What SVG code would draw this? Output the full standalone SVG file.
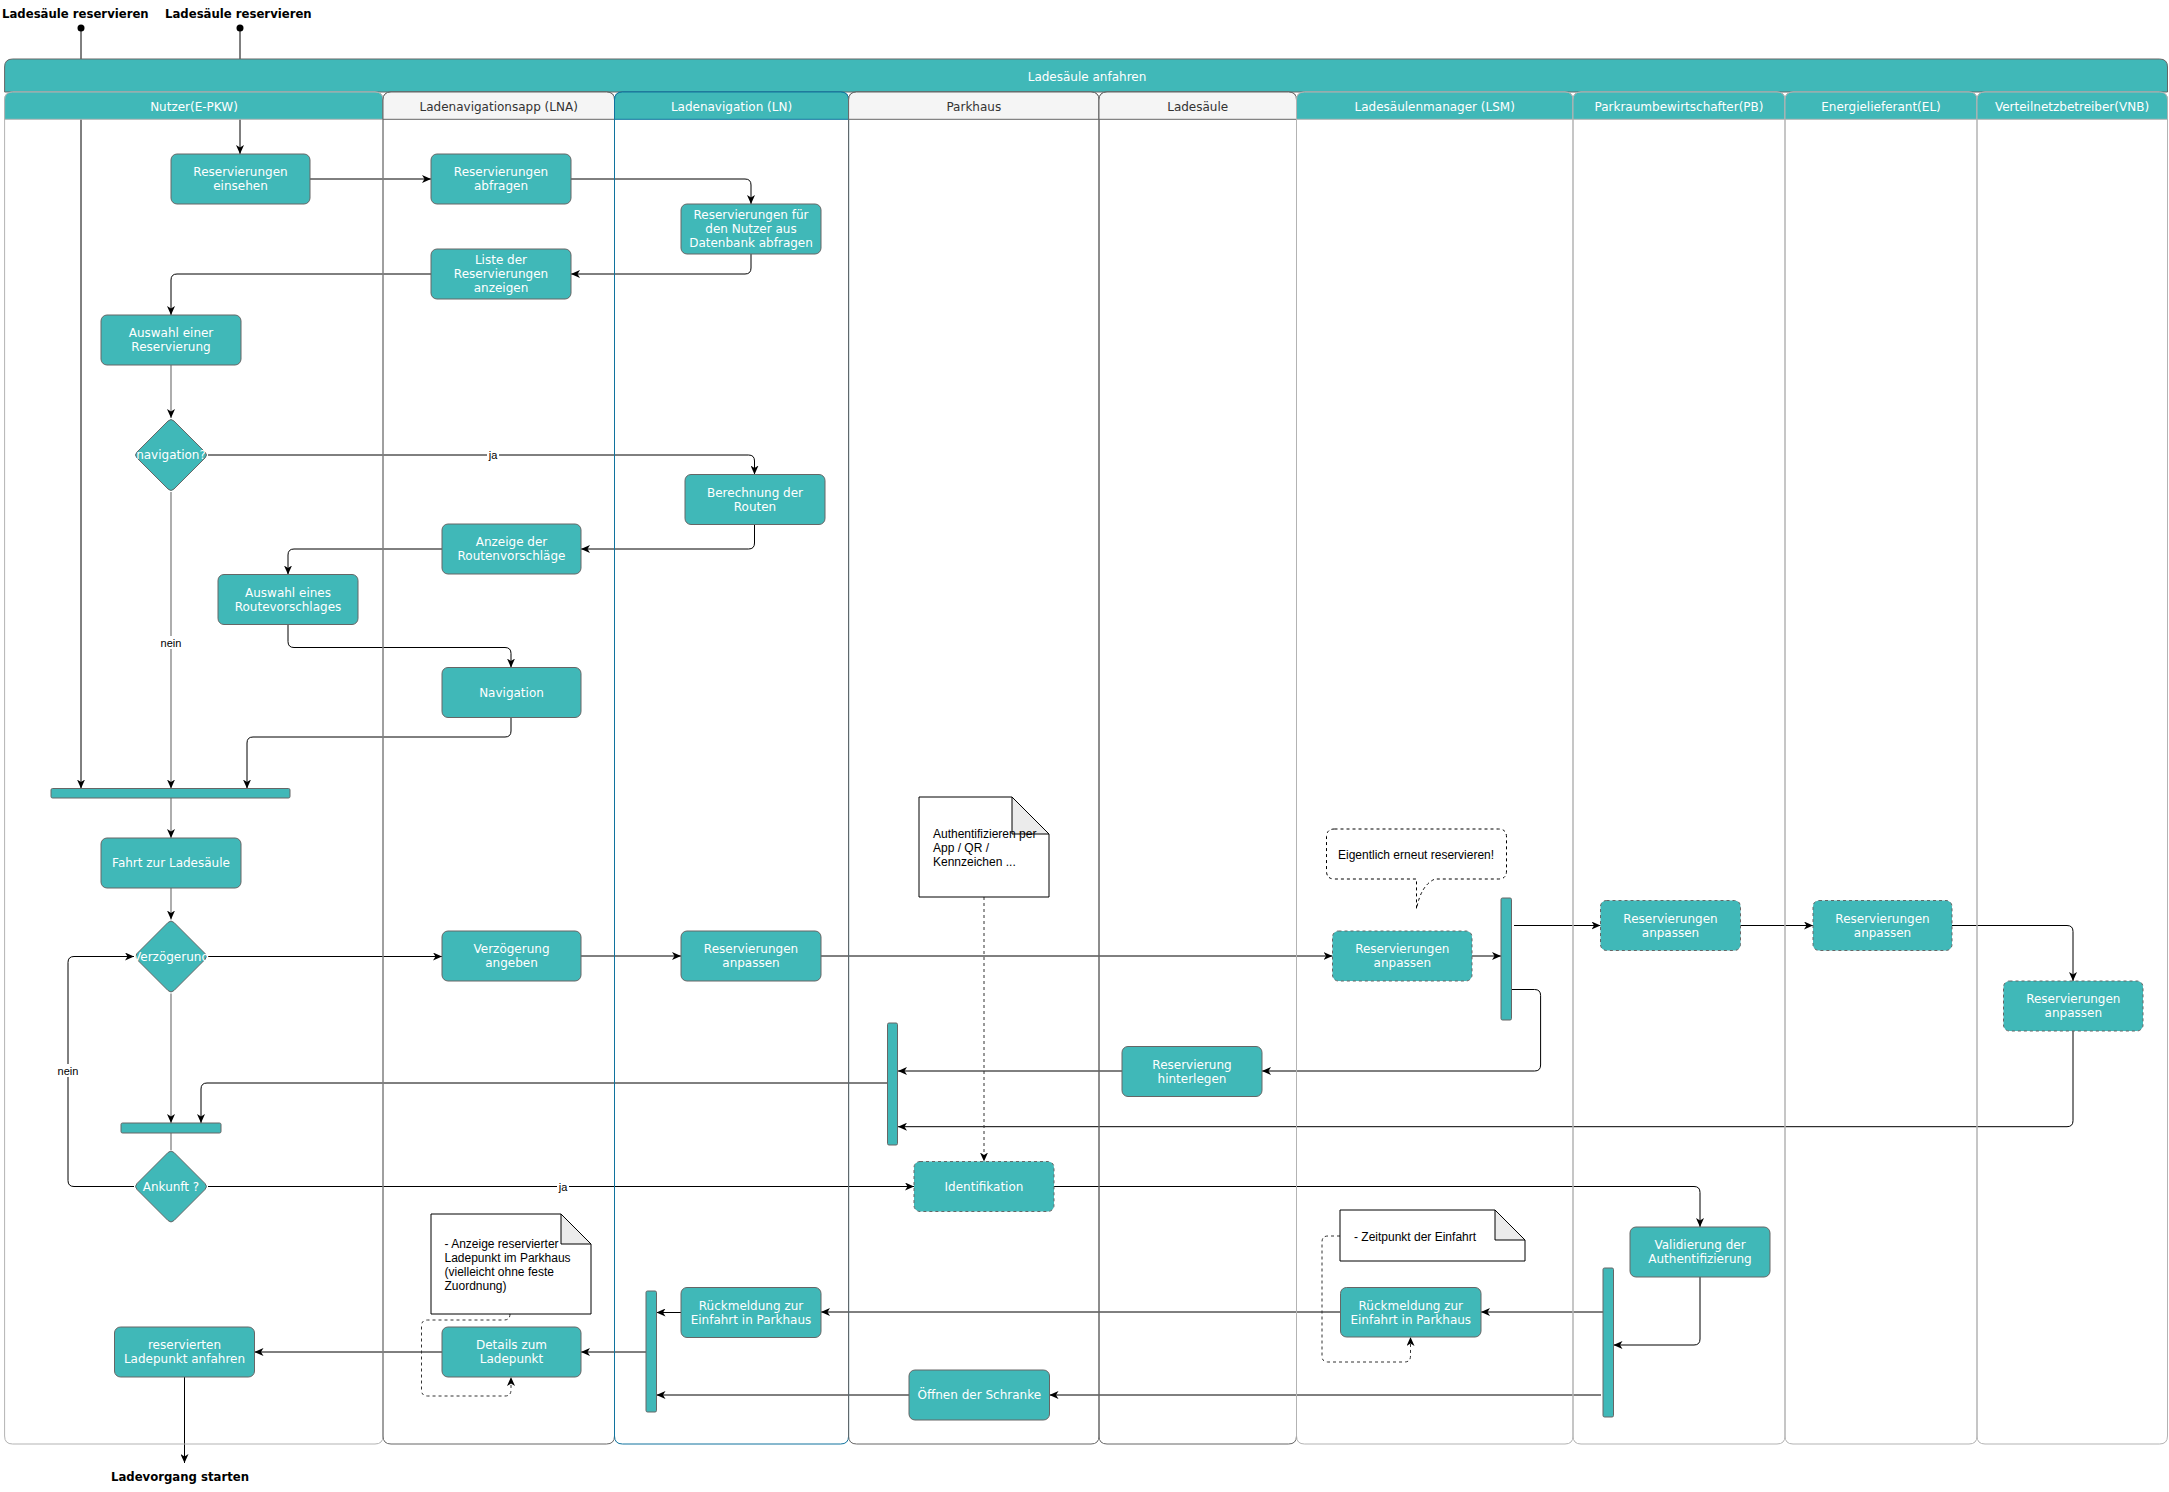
<svg xmlns="http://www.w3.org/2000/svg" width="2169" height="1492" viewBox="0 0 2169 1492">
<style>
.bg{fill:#fff}
.node{fill:#40B8B8;stroke:#666;stroke-width:1}
.dash{stroke-dasharray:3 3}
.bar{fill:#40B8B8;stroke:#666;stroke-width:1}
.nt{font-family:"DejaVu Sans",Verdana,sans-serif;font-size:12px;fill:#fff;text-anchor:middle}
.ht{font-family:"DejaVu Sans",Verdana,sans-serif;font-size:12px;text-anchor:middle}
.edge{fill:none;stroke:#000;stroke-width:1}
.gedge{fill:none;stroke:#777;stroke-width:1.2}
.dedge{fill:none;stroke:#333;stroke-width:1;stroke-dasharray:3 3}
.lbl{font-family:"Liberation Sans",Arial,sans-serif;font-size:11px;fill:#000;text-anchor:middle}
.lblbg{fill:#fff}
.note{fill:#fff;stroke:#000;stroke-width:1}
.fold{fill:#ebebeb;stroke:#000;stroke-width:1}
.notet{font-family:"Liberation Sans",Arial,sans-serif;font-size:12px;fill:#000}
.title{font-family:"DejaVu Sans",Verdana,sans-serif;font-size:11.7px;font-weight:bold;fill:#000}
.lanebody{fill:none;stroke-width:1}
</style>
<defs>
<marker id="arr" viewBox="0 0 9 8" refX="9" refY="4" markerWidth="9" markerHeight="8" markerUnits="userSpaceOnUse" orient="auto"><path d="M0,0 L9,4 L0,8 L2.5,4 Z" fill="#000"/></marker>
</defs>
<rect class="bg" x="0" y="0" width="2169" height="1492"/>

<g id="start-labels">
<text class="title" x="2" y="18">Ladesäule reservieren</text>
<text class="title" x="165" y="18">Ladesäule reservieren</text>
<circle cx="81" cy="28" r="3.5" fill="#000"/>
<circle cx="240" cy="28" r="3.5" fill="#000"/>
<text class="title" x="180" y="1481" text-anchor="middle">Ladevorgang starten</text>
</g>

<g id="connectors">
<path class="edge" d="M81,31 V788.5" marker-end="url(#arr)"/>
<path class="edge" d="M240,31 V154" marker-end="url(#arr)"/>
<path class="edge" d="M310,179 H431" marker-end="url(#arr)"/>
<path class="edge" d="M571,179 H745 Q751,179 751,185 V204" marker-end="url(#arr)"/>
<path class="edge" d="M751,254 V268 Q751,274 745,274 H571" marker-end="url(#arr)"/>
<path class="edge" d="M431,274 H177 Q171,274 171,280 V315" marker-end="url(#arr)"/>
<path class="gedge" d="M171,365 V418" marker-end="url(#arr)"/>
<path class="edge" d="M208,455 H748.5 Q754.5,455 754.5,461 V474.5" marker-end="url(#arr)"/>
<path class="edge" d="M754.5,524.5 V543 Q754.5,549 748.5,549 H581" marker-end="url(#arr)"/>
<path class="edge" d="M442,549 H294 Q288,549 288,555 V574.5" marker-end="url(#arr)"/>
<path class="edge" d="M288,624.5 V641.5 Q288,647.5 294,647.5 H505 Q511,647.5 511,653.5 V667.5" marker-end="url(#arr)"/>
<path class="edge" d="M511,717.5 V731 Q511,737 505,737 H253 Q247,737 247,743 V788.5" marker-end="url(#arr)"/>
<path class="gedge" d="M171,492 V788.5" marker-end="url(#arr)"/>
<path class="gedge" d="M171,798 V838" marker-end="url(#arr)"/>
<path class="gedge" d="M171,888 V919.5" marker-end="url(#arr)"/>
<path class="edge" d="M208,956.5 H442" marker-end="url(#arr)"/>
<path class="edge" d="M581,956 H681" marker-end="url(#arr)"/>
<path class="edge" d="M821,956 H1332.5" marker-end="url(#arr)"/>
<path class="edge" d="M1472,956 H1501" marker-end="url(#arr)"/>
<path class="edge" d="M1514,925.5 H1600.5" marker-end="url(#arr)"/>
<path class="edge" d="M1740.5,925.5 H1813" marker-end="url(#arr)"/>
<path class="edge" d="M1952,925.5 H2067 Q2073,925.5 2073,931.5 V981" marker-end="url(#arr)"/>
<path class="edge" d="M2073,1031 V1120.7 Q2073,1126.7 2067,1126.7 H898" marker-end="url(#arr)"/>
<path class="edge" d="M1511.5,989.5 H1534.6 Q1540.6,989.5 1540.6,995.5 V1065 Q1540.6,1071 1534.6,1071 H1262" marker-end="url(#arr)"/>
<path class="edge" d="M1122,1071 H898" marker-end="url(#arr)"/>
<path class="edge" d="M887.5,1083 H207 Q201,1083 201,1089 V1123" marker-end="url(#arr)"/>
<path class="gedge" d="M171,993.5 V1123" marker-end="url(#arr)"/>
<path class="gedge" d="M171,1133 V1150"/>
<path class="edge" d="M208,1186.5 H914" marker-end="url(#arr)"/>
<path class="edge" d="M134,1186.5 H74 Q68,1186.5 68,1180.5 V962.5 Q68,956.5 74,956.5 H134" marker-end="url(#arr)"/>
<path class="dedge" d="M984,897 V1161.5" marker-end="url(#arr)"/>
<path class="edge" d="M1054,1186.5 H1694 Q1700,1186.5 1700,1192.5 V1227" marker-end="url(#arr)"/>
<path class="edge" d="M1700,1277 V1339 Q1700,1345 1694,1345 H1613.5" marker-end="url(#arr)"/>
<path class="edge" d="M1603,1312 H1481" marker-end="url(#arr)"/>
<path class="edge" d="M1340.5,1312 H821" marker-end="url(#arr)"/>
<path class="edge" d="M681,1312.5 H656.5" marker-end="url(#arr)"/>
<path class="edge" d="M1601,1395 H1049.5" marker-end="url(#arr)"/>
<path class="edge" d="M909,1395 H656.5" marker-end="url(#arr)"/>
<path class="edge" d="M646,1352 H581" marker-end="url(#arr)"/>
<path class="edge" d="M442,1352 H254.5" marker-end="url(#arr)"/>
<path class="edge" d="M184.5,1377 V1463" marker-end="url(#arr)"/>
<path class="dedge" d="M510,1314 Q510,1320 504,1320 H427.5 Q421.5,1320 421.5,1326 V1390 Q421.5,1396 427.5,1396 H505 Q511,1396 511,1390 V1377" marker-end="url(#arr)"/>
<path class="dedge" d="M1340,1236 H1328 Q1322,1236 1322,1242 V1356 Q1322,1362 1328,1362 H1404.5 Q1410.5,1362 1410.5,1356 V1337" marker-end="url(#arr)"/>
<rect class="lblbg" x="487" y="449" width="12" height="12"/>
<text class="lbl" x="493" y="459">ja</text>
<rect class="lblbg" x="160" y="636" width="22" height="13"/>
<text class="lbl" x="171" y="646.5">nein</text>
<rect class="lblbg" x="557" y="1181" width="12" height="12"/>
<text class="lbl" x="563" y="1191">ja</text>
<rect class="lblbg" x="57" y="1064" width="22" height="13"/>
<text class="lbl" x="68" y="1075">nein</text>
</g>

<g id="pool">
<path d="M4.6,92 V67 Q4.6,59 12.6,59 H2159.5 Q2167.5,59 2167.5,67 V92 Z" fill="#40B8B8" stroke="#666"/>
<text class="ht" x="1087" y="81" fill="#fff">Ladesäule anfahren</text>
<g id="lane-nutzer">
<path class="lanebody" stroke="#B3B3B3" d="M12.6,92 H375 Q383,92 383,100 V1436 Q383,1444 375,1444 H12.6 Q4.6,1444 4.6,1436 V100 Q4.6,92 12.6,92 Z"/>
<path d="M4.6,119.3 V100 Q4.6,92 12.6,92 H375 Q383,92 383,100 V119.3 Z" fill="#40B8B8" stroke="#B3B3B3"/>
<text class="ht" x="194" y="111" fill="#fff">Nutzer(E-PKW)</text>
</g>
<g id="lane-lna">
<path class="lanebody" stroke="#666" d="M391,92 H606.5 Q614.5,92 614.5,100 V1436 Q614.5,1444 606.5,1444 H391 Q383,1444 383,1436 V100 Q383,92 391,92 Z"/>
<path d="M383,119.3 V100 Q383,92 391,92 H606.5 Q614.5,92 614.5,100 V119.3 Z" fill="#F5F5F5" stroke="#666"/>
<text class="ht" x="498.7" y="111" fill="#333">Ladenavigationsapp (LNA)</text>
</g>
<g id="lane-ln">
<path class="lanebody" stroke="#10739E" d="M622.5,92 H840.6 Q848.6,92 848.6,100 V1436 Q848.6,1444 840.6,1444 H622.5 Q614.5,1444 614.5,1436 V100 Q614.5,92 622.5,92 Z"/>
<path d="M614.5,119.3 V100 Q614.5,92 622.5,92 H840.6 Q848.6,92 848.6,100 V119.3 Z" fill="#40B8B8" stroke="#10739E"/>
<text class="ht" x="731.5" y="111" fill="#fff">Ladenavigation (LN)</text>
</g>
<g id="lane-parkhaus">
<path class="lanebody" stroke="#666" d="M856.6,92 H1091 Q1099,92 1099,100 V1436 Q1099,1444 1091,1444 H856.6 Q848.6,1444 848.6,1436 V100 Q848.6,92 856.6,92 Z"/>
<path d="M848.6,119.3 V100 Q848.6,92 856.6,92 H1091 Q1099,92 1099,100 V119.3 Z" fill="#F5F5F5" stroke="#666"/>
<text class="ht" x="973.8" y="111" fill="#333">Parkhaus</text>
</g>
<g id="lane-ladesaeule">
<path class="lanebody" stroke="#666" d="M1107,92 H1288.5 Q1296.5,92 1296.5,100 V1436 Q1296.5,1444 1288.5,1444 H1107 Q1099,1444 1099,1436 V100 Q1099,92 1107,92 Z"/>
<path d="M1099,119.3 V100 Q1099,92 1107,92 H1288.5 Q1296.5,92 1296.5,100 V119.3 Z" fill="#F5F5F5" stroke="#666"/>
<text class="ht" x="1197.7" y="111" fill="#333">Ladesäule</text>
</g>
<g id="lane-lsm">
<path class="lanebody" stroke="#B3B3B3" d="M1304.5,92 H1565 Q1573,92 1573,100 V1436 Q1573,1444 1565,1444 H1304.5 Q1296.5,1444 1296.5,1436 V100 Q1296.5,92 1304.5,92 Z"/>
<path d="M1296.5,119.3 V100 Q1296.5,92 1304.5,92 H1565 Q1573,92 1573,100 V119.3 Z" fill="#40B8B8" stroke="#B3B3B3"/>
<text class="ht" x="1434.7" y="111" fill="#fff">Ladesäulenmanager (LSM)</text>
</g>
<g id="lane-pb">
<path class="lanebody" stroke="#B3B3B3" d="M1581,92 H1777 Q1785,92 1785,100 V1436 Q1785,1444 1777,1444 H1581 Q1573,1444 1573,1436 V100 Q1573,92 1581,92 Z"/>
<path d="M1573,119.3 V100 Q1573,92 1581,92 H1777 Q1785,92 1785,100 V119.3 Z" fill="#40B8B8" stroke="#B3B3B3"/>
<text class="ht" x="1679" y="111" fill="#fff">Parkraumbewirtschafter(PB)</text>
</g>
<g id="lane-el">
<path class="lanebody" stroke="#B3B3B3" d="M1793,92 H1969 Q1977,92 1977,100 V1436 Q1977,1444 1969,1444 H1793 Q1785,1444 1785,1436 V100 Q1785,92 1793,92 Z"/>
<path d="M1785,119.3 V100 Q1785,92 1793,92 H1969 Q1977,92 1977,100 V119.3 Z" fill="#40B8B8" stroke="#B3B3B3"/>
<text class="ht" x="1881" y="111" fill="#fff">Energielieferant(EL)</text>
</g>
<g id="lane-vnb">
<path class="lanebody" stroke="#B3B3B3" d="M1985,92 H2159.5 Q2167.5,92 2167.5,100 V1436 Q2167.5,1444 2159.5,1444 H1985 Q1977,1444 1977,1436 V100 Q1977,92 1985,92 Z"/>
<path d="M1977,119.3 V100 Q1977,92 1985,92 H2159.5 Q2167.5,92 2167.5,100 V119.3 Z" fill="#40B8B8" stroke="#B3B3B3"/>
<text class="ht" x="2072" y="111" fill="#fff">Verteilnetzbetreiber(VNB)</text>
</g>
</g>

<g id="n-einsehen"><rect class="node" x="171" y="154" width="139" height="50" rx="6"/><text class="nt"><tspan x="240.5" y="176.3">Reservierungen</tspan><tspan x="240.5" y="190.3">einsehen</tspan></text></g>
<g id="n-abfragen"><rect class="node" x="431" y="154" width="140" height="50" rx="6"/><text class="nt"><tspan x="501" y="176.3">Reservierungen</tspan><tspan x="501" y="190.3">abfragen</tspan></text></g>
<g id="n-db"><rect class="node" x="681" y="204" width="140" height="50" rx="6"/><text class="nt"><tspan x="751" y="219.3">Reservierungen für</tspan><tspan x="751" y="233.3">den Nutzer aus</tspan><tspan x="751" y="247.3">Datenbank abfragen</tspan></text></g>
<g id="n-liste"><rect class="node" x="431" y="249" width="140" height="50" rx="6"/><text class="nt"><tspan x="501" y="264.3">Liste der</tspan><tspan x="501" y="278.3">Reservierungen</tspan><tspan x="501" y="292.3">anzeigen</tspan></text></g>
<g id="n-auswahl-res"><rect class="node" x="101" y="315" width="140" height="50" rx="6"/><text class="nt"><tspan x="171" y="337.3">Auswahl einer</tspan><tspan x="171" y="351.3">Reservierung</tspan></text></g>
<g id="d-navigation"><path class="node" d="M168,421 Q171,418 174,421 L205,452 Q208,455 205,458 L174,489 Q171,492 168,489 L137,458 Q134,455 137,452 Z"/><text class="nt" x="171" y="459.3">navigation?</text></g>
<g id="n-berechnung"><rect class="node" x="685" y="474.5" width="140" height="50" rx="6"/><text class="nt"><tspan x="755" y="496.8">Berechnung der</tspan><tspan x="755" y="510.8">Routen</tspan></text></g>
<g id="n-anzeige"><rect class="node" x="442" y="524" width="139" height="50" rx="6"/><text class="nt"><tspan x="511.5" y="546.3">Anzeige der</tspan><tspan x="511.5" y="560.3">Routenvorschläge</tspan></text></g>
<g id="n-auswahl-route"><rect class="node" x="218" y="574.5" width="140" height="50" rx="6"/><text class="nt"><tspan x="288" y="596.8">Auswahl eines</tspan><tspan x="288" y="610.8">Routevorschlages</tspan></text></g>
<g id="n-navigation"><rect class="node" x="442" y="667.5" width="139" height="50" rx="6"/><text class="nt" x="511.5" y="696.8">Navigation</text></g>
<g id="bar-join1"><rect class="bar" x="51" y="788.5" width="239" height="9.5" rx="1.5"/></g>
<g id="n-fahrt"><rect class="node" x="101" y="838" width="140" height="50" rx="6"/><text class="nt" x="171" y="867.3">Fahrt zur Ladesäule</text></g>
<g id="d-verzoegerung"><path class="node" d="M168,922.5 Q171,919.5 174,922.5 L205,953.5 Q208,956.5 205,959.5 L174,990.5 Q171,993.5 168,990.5 L137,959.5 Q134,956.5 137,953.5 Z"/><text class="nt" x="171" y="960.8">Verzögerung</text></g>
<g id="n-verz-angeben"><rect class="node" x="442" y="931" width="139" height="50" rx="6"/><text class="nt"><tspan x="511.5" y="953.3">Verzögerung</tspan><tspan x="511.5" y="967.3">angeben</tspan></text></g>
<g id="n-ln-anpassen"><rect class="node" x="681" y="931" width="140" height="50" rx="6"/><text class="nt"><tspan x="751" y="953.3">Reservierungen</tspan><tspan x="751" y="967.3">anpassen</tspan></text></g>
<g id="n-lsm-anpassen"><rect class="node dash" x="1332.5" y="931" width="139.5" height="50" rx="6"/><text class="nt"><tspan x="1402.3" y="953.3">Reservierungen</tspan><tspan x="1402.3" y="967.3">anpassen</tspan></text></g>
<g id="bar-lsm"><rect class="bar" x="1501" y="898" width="10.5" height="122" rx="1.5"/></g>
<g id="n-pb-anpassen"><rect class="node dash" x="1600.5" y="900.5" width="140" height="50" rx="6"/><text class="nt"><tspan x="1670.5" y="922.8">Reservierungen</tspan><tspan x="1670.5" y="936.8">anpassen</tspan></text></g>
<g id="n-el-anpassen"><rect class="node dash" x="1813" y="900.5" width="139" height="50" rx="6"/><text class="nt"><tspan x="1882.5" y="922.8">Reservierungen</tspan><tspan x="1882.5" y="936.8">anpassen</tspan></text></g>
<g id="n-vnb-anpassen"><rect class="node dash" x="2003.5" y="981" width="139.5" height="50" rx="6"/><text class="nt"><tspan x="2073.3" y="1003.3">Reservierungen</tspan><tspan x="2073.3" y="1017.3">anpassen</tspan></text></g>
<g id="bar-parkhaus"><rect class="bar" x="887.5" y="1023" width="10" height="122" rx="1.5"/></g>
<g id="n-hinterlegen"><rect class="node" x="1122" y="1046.5" width="140" height="50" rx="6"/><text class="nt"><tspan x="1192" y="1068.8">Reservierung</tspan><tspan x="1192" y="1082.8">hinterlegen</tspan></text></g>
<g id="bar-join2"><rect class="bar" x="121" y="1123" width="100" height="10" rx="1.5"/></g>
<g id="d-ankunft"><path class="node" d="M168,1152.5 Q171,1149.5 174,1152.5 L205,1183.5 Q208,1186.5 205,1189.5 L174,1220.5 Q171,1223.5 168,1220.5 L137,1189.5 Q134,1186.5 137,1183.5 Z"/><text class="nt" x="171" y="1190.8">Ankunft ?</text></g>
<g id="n-identifikation"><rect class="node dash" x="914" y="1161.5" width="140" height="50" rx="6"/><text class="nt" x="984" y="1190.8">Identifikation</text></g>
<g id="n-validierung"><rect class="node" x="1630" y="1227" width="140" height="50" rx="6"/><text class="nt"><tspan x="1700" y="1249.3">Validierung der</tspan><tspan x="1700" y="1263.3">Authentifizierung</tspan></text></g>
<g id="bar-pb"><rect class="bar" x="1603" y="1268" width="10.5" height="149" rx="1.5"/></g>
<g id="n-rueck-lsm"><rect class="node" x="1340.5" y="1287.5" width="140.5" height="49.5" rx="6"/><text class="nt"><tspan x="1410.8" y="1309.5">Rückmeldung zur</tspan><tspan x="1410.8" y="1323.5">Einfahrt in Parkhaus</tspan></text></g>
<g id="n-rueck-ln"><rect class="node" x="681" y="1287.5" width="140" height="50" rx="6"/><text class="nt"><tspan x="751" y="1309.8">Rückmeldung zur</tspan><tspan x="751" y="1323.8">Einfahrt in Parkhaus</tspan></text></g>
<g id="bar-ln"><rect class="bar" x="646" y="1291" width="10.5" height="121" rx="1.5"/></g>
<g id="n-schranke"><rect class="node" x="909" y="1370" width="140.5" height="50" rx="6"/><text class="nt" x="979.3" y="1399.3">Öffnen der Schranke</text></g>
<g id="n-details"><rect class="node" x="442" y="1327" width="139" height="50" rx="6"/><text class="nt"><tspan x="511.5" y="1349.3">Details zum</tspan><tspan x="511.5" y="1363.3">Ladepunkt</tspan></text></g>
<g id="n-anfahren"><rect class="node" x="114.5" y="1327" width="140" height="50" rx="6"/><text class="nt"><tspan x="184.5" y="1349.3">reservierten</tspan><tspan x="184.5" y="1363.3">Ladepunkt anfahren</tspan></text></g>

<g id="note-auth"><path class="note" d="M919,797 H1012 L1049,834 V897 H919 Z"/><path class="fold" d="M1012,797 V834 H1049 Z"/><text class="notet"><tspan x="933" y="838">Authentifizieren per</tspan><tspan x="933" y="852">App / QR /</tspan><tspan x="933" y="866">Kennzeichen ...</tspan></text></g>
<g id="note-anzeige"><path class="note" d="M431,1214 H561 L591,1244 V1314 H431 Z"/><path class="fold" d="M561,1214 V1244 H591 Z"/><text class="notet"><tspan x="444.5" y="1248.3">- Anzeige reservierter</tspan><tspan x="444.5" y="1262.3">Ladepunkt im Parkhaus</tspan><tspan x="444.5" y="1276.3">(vielleicht ohne feste</tspan><tspan x="444.5" y="1290.3">Zuordnung)</tspan></text></g>
<g id="note-zeitpunkt"><path class="note" d="M1340,1210 H1495 L1525,1240 V1261 H1340 Z"/><path class="fold" d="M1495,1210 V1240 H1525 Z"/><text class="notet" x="1354" y="1241">- Zeitpunkt der Einfahrt</text></g>
<g id="bubble"><path fill="#fff" stroke="#000" stroke-dasharray="3 3" d="M1334.5,829 H1498.5 Q1506.5,829 1506.5,837 V871 Q1506.5,879 1498.5,879 H1435 Q1421,885 1416.5,909 V879 H1334.5 Q1326.5,879 1326.5,871 V837 Q1326.5,829 1334.5,829 Z"/><text class="notet" x="1338" y="858.8">Eigentlich erneut reservieren!</text></g>
</svg>
